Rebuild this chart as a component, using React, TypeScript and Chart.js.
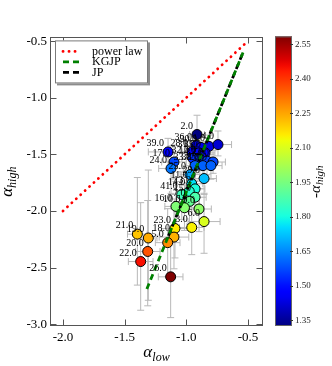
import React, { useEffect, useRef } from "react";
import { Chart, registerables } from "chart.js";
Chart.register(...registerables);

// ---------------- data ----------------
const regionLabels = ["2.0","39.0","17.0","24.0","36.0","30.0","1.0","4.0","28.0","31.0","35.0","32.0","12.0","37.0","34.0","33.0","38.0","27.0","25.0","29.0","11.0","13.0","14.0","41.0","15.0","7.0","16.0","10.0","9.0","6.0","3.0","23.0","18.0","5.0","21.0","19.0","20.0","22.0","26.0"];
const alphaLow = [-0.913,-1.148,-1.100,-1.124,-0.921,-0.881,-0.816,-0.743,-0.954,-0.897,-0.848,-0.946,-0.889,-0.832,-0.783,-0.929,-0.865,-0.800,-0.970,-0.856,-0.956,-0.929,-0.976,-1.037,-0.929,-0.974,-1.084,-1.015,-0.897,-0.856,-0.956,-1.092,-1.100,-1.151,-1.397,-1.308,-1.313,-1.370,-1.127];
const alphaHigh = [-1.325,-1.479,-1.568,-1.625,-1.422,-1.439,-1.430,-1.414,-1.479,-1.487,-1.487,-1.536,-1.544,-1.560,-1.568,-1.600,-1.600,-1.600,-1.679,-1.714,-1.760,-1.805,-1.827,-1.855,-1.879,-1.916,-1.960,-1.972,-1.983,-2.094,-2.146,-2.155,-2.231,-2.280,-2.205,-2.239,-2.358,-2.447,-2.582];
const alphaLowErr = [0.06,0.16,0.10,0.10,0.08,0.07,0.09,0.11,0.08,0.07,0.08,0.09,0.07,0.08,0.10,0.08,0.07,0.09,0.08,0.10,0.09,0.08,0.07,0.10,0.09,0.08,0.09,0.08,0.10,0.13,0.10,0.11,0.12,0.10,0.08,0.07,0.10,0.10,0.10];
const alphaHighErrUp = [0.17,0.12,0.15,0.20,0.12,0.10,0.10,0.12,0.10,0.09,0.10,0.12,0.10,0.11,0.10,0.14,0.12,0.10,0.15,0.12,0.15,0.14,0.16,0.20,0.15,0.18,0.22,0.20,0.18,0.25,0.24,0.26,0.25,0.30,0.50,0.60,0.45,0.52,0.40];
const alphaHighErrDown = [0.17,0.15,0.15,0.22,0.10,0.10,0.12,0.10,0.10,0.10,0.10,0.12,0.10,0.12,0.10,0.14,0.12,0.12,0.15,0.14,0.15,0.14,0.18,0.22,0.15,0.20,0.25,0.20,0.20,0.28,0.24,0.26,0.28,0.30,0.45,0.55,0.48,0.43,0.36];

const powerLawX = [-2.0, -0.5];
const powerLawY = [-2.0, -0.5];
const kgjpX = [-1.32, -0.54];
const kgjpY = [-2.69, -0.60];
const jpX = [-1.16, -0.54];
const jpY = [-2.26, -0.60];

const xTicks = [-2.0, -1.5, -1.0, -0.5];
const yTicks = [-3.0, -2.5, -2.0, -1.5, -1.0, -0.5];
const cbTicks = [1.35, 1.50, 1.65, 1.80, 1.95, 2.10, 2.25, 2.40, 2.55];
const cbMin = 1.325;
const cbMax = 2.58;

// ---------------- colormap (matplotlib jet) ----------------
const jetR = [[0, 0], [0.35, 0], [0.66, 1], [0.89, 1], [1, 0.5]];
const jetG = [[0, 0], [0.125, 0], [0.375, 1], [0.64, 1], [0.91, 0], [1, 0]];
const jetB = [[0, 0.5], [0.11, 1], [0.34, 1], [0.65, 0], [1, 0]];
function seg(s: number[][], t: number) {
  for (let i = 1; i < s.length; i++) {
    if (t <= s[i][0]) {
      const [x0, y0] = s[i - 1];
      const [x1, y1] = s[i];
      return y0 + ((y1 - y0) * (t - x0)) / (x1 - x0);
    }
  }
  return s[s.length - 1][1];
}
function jet(t: number) {
  const c = Math.max(0, Math.min(1, t));
  const r = Math.round(255 * seg(jetR, c));
  const g = Math.round(255 * seg(jetG, c));
  const b = Math.round(255 * seg(jetB, c));
  return `rgb(${r},${g},${b})`;
}
const valueColor = (v: number) => jet((v - cbMin) / (cbMax - cbMin));

const SERIF = '"Liberation Serif", "DejaVu Serif", serif';

function drawMath(ctx: CanvasRenderingContext2D, x: number, y: number, main: string, sub: string, rotate: boolean, mainSize: number, subSize: number, subShift: number) {
  ctx.save();
  ctx.translate(x, y);
  if (rotate) ctx.rotate(-Math.PI / 2);
  ctx.fillStyle = "#000";
  ctx.textBaseline = "alphabetic";
  ctx.textAlign = "left";
  ctx.font = `italic ${mainSize}px ${SERIF}`;
  const w1 = ctx.measureText(main).width;
  ctx.font = `italic ${subSize}px ${SERIF}`;
  const w2 = ctx.measureText(sub).width;
  const start = -(w1 + w2) / 2;
  ctx.font = `italic ${mainSize}px ${SERIF}`;
  ctx.fillText(main, start, 0);
  ctx.font = `italic ${subSize}px ${SERIF}`;
  ctx.fillText(sub, start + w1, subShift);
  ctx.restore();
}

const customPlugin = {
  id: "custom",
  beforeDatasetsDraw(chart: any) {
    const { ctx } = chart;
    const xs = chart.scales.x;
    const ys = chart.scales.y;
    ctx.save();
    ctx.strokeStyle = "#b8b8b8";
    ctx.lineWidth = 1;
    const cap = 3.5;
    for (let i = 0; i < alphaLow.length; i++) {
      const px = xs.getPixelForValue(alphaLow[i]);
      const py = ys.getPixelForValue(alphaHigh[i]);
      const xl = xs.getPixelForValue(alphaLow[i] - alphaLowErr[i]);
      const xr = xs.getPixelForValue(alphaLow[i] + alphaLowErr[i]);
      const yt = ys.getPixelForValue(alphaHigh[i] + alphaHighErrUp[i]);
      const yb = ys.getPixelForValue(alphaHigh[i] - alphaHighErrDown[i]);
      ctx.beginPath();
      ctx.moveTo(xl, py); ctx.lineTo(xr, py);
      ctx.moveTo(xl, py - cap); ctx.lineTo(xl, py + cap);
      ctx.moveTo(xr, py - cap); ctx.lineTo(xr, py + cap);
      ctx.moveTo(px, yt); ctx.lineTo(px, yb);
      ctx.moveTo(px - cap, yt); ctx.lineTo(px + cap, yt);
      ctx.moveTo(px - cap, yb); ctx.lineTo(px + cap, yb);
      ctx.stroke();
    }
    ctx.restore();
  },
  afterDatasetsDraw(chart: any) {
    const { ctx, chartArea } = chart;
    const xs = chart.scales.x;
    const ys = chart.scales.y;
    const cb = chart.scales.cb;
    // point labels
    ctx.save();
    ctx.fillStyle = "#000";
    ctx.font = `10px ${SERIF}`;
    ctx.textAlign = "right";
    ctx.textBaseline = "middle";
    for (let i = 0; i < alphaLow.length; i++) {
      const px = xs.getPixelForValue(alphaLow[i]);
      const py = ys.getPixelForValue(alphaHigh[i]);
      ctx.fillText(regionLabels[i], px - 4, py - 8.5);
    }
    ctx.restore();

    // frame + inward ticks
    ctx.save();
    ctx.strokeStyle = "#555";
    ctx.lineWidth = 1;
    const L = Math.round(chartArea.left) + 0.5;
    const R = Math.round(chartArea.right) - 0.5;
    const T = Math.round(chartArea.top) + 0.5;
    const B = Math.round(chartArea.bottom) - 0.5;
    ctx.strokeRect(L, T, R - L, B - T);
    ctx.beginPath();
    const tl = 6;
    xTicks.forEach((v) => {
      const p = Math.round(xs.getPixelForValue(v)) + 0.5;
      ctx.moveTo(p, B); ctx.lineTo(p, B - tl);
      ctx.moveTo(p, T); ctx.lineTo(p, T + tl);
    });
    yTicks.forEach((v) => {
      const p = Math.round(ys.getPixelForValue(v)) + 0.5;
      ctx.moveTo(L, p); ctx.lineTo(L + tl, p);
      ctx.moveTo(R, p); ctx.lineTo(R - tl, p);
    });
    ctx.stroke();
    ctx.restore();

    // legend
    ctx.save();
    const lx = chartArea.left + 5, ly = chartArea.top + 3, lw = 93, lh = 43;
    ctx.fillStyle = "#8c8c8c";
    ctx.fillRect(lx + 2, ly + 2, lw, lh);
    ctx.fillStyle = "#fff";
    ctx.fillRect(lx, ly, lw, lh);
    ctx.strokeStyle = "#7a7a7a";
    ctx.lineWidth = 1;
    ctx.strokeRect(lx + 0.5, ly + 0.5, lw - 1, lh - 1);
    const items = chart.data.datasets.filter((d: any) => d.type === "line");
    ctx.font = `12px ${SERIF}`;
    ctx.textBaseline = "middle";
    ctx.textAlign = "left";
    items.forEach((d: any, k: number) => {
      const yy = ly + 11 + k * 10.5;
      ctx.save();
      ctx.strokeStyle = d.borderColor;
      ctx.lineWidth = d.borderWidth;
      ctx.lineCap = d.borderCapStyle || "butt";
      ctx.setLineDash(d.borderDash || []);
      ctx.beginPath();
      ctx.moveTo(lx + 8, yy); ctx.lineTo(lx + 24, yy);
      ctx.stroke();
      ctx.restore();
      ctx.fillStyle = "#000";
      ctx.fillText(d.label, lx + 37, yy);
    });
    ctx.restore();

    // colorbar
    ctx.save();
    const bx0 = cb.left + 12, bx1 = cb.left + 29;
    const by0 = cb.top - 1, by1 = cb.bottom;
    const grad = ctx.createLinearGradient(0, by1, 0, by0);
    for (let s = 0; s <= 50; s++) grad.addColorStop(s / 50, jet(s / 50));
    ctx.fillStyle = grad;
    ctx.fillRect(bx0, by0, bx1 - bx0, by1 - by0);
    ctx.strokeStyle = "#666";
    ctx.lineWidth = 1;
    ctx.strokeRect(bx0 + 0.5, by0 + 0.5, bx1 - bx0 - 1, by1 - by0 - 1);
    ctx.beginPath();
    ctx.strokeStyle = "#333";
    cbTicks.forEach((v) => {
      const p = Math.round(cb.getPixelForValue(v)) + 0.5;
      ctx.moveTo(bx1 - 2, p); ctx.lineTo(bx1 + 1, p);
    });
    ctx.stroke();
    ctx.restore();

    // axis titles
    drawMath(ctx, (chartArea.left + chartArea.right) / 2, 357, "\u03b1", "low", false, 17, 12, 4);
    drawMath(ctx, 12, (chartArea.top + chartArea.bottom) / 2, "\u03b1", "high", true, 17, 12, 4);
    drawMath(ctx, 320, (chartArea.top + chartArea.bottom) / 2, "-\u03b1", "high", true, 15, 11, 3);
  },
};

export default function App() {
  const ref = useRef<HTMLCanvasElement | null>(null);
  useEffect(() => {
    if (!ref.current) return;
    const pts = alphaLow.map((x, i) => ({ x, y: alphaHigh[i] }));
    const chart = new Chart(ref.current, {
      type: "scatter",
      data: {
        datasets: [
          {
            type: "line",
            label: "power law",
            data: powerLawX.map((x, i) => ({ x, y: powerLawY[i] })),
            borderColor: "#ff0000",
            borderWidth: 2.8,
            borderDash: [0.1, 5.9],
            borderCapStyle: "round",
            pointRadius: 0,
            fill: false,
            order: 0,
          } as any,
          {
            type: "line",
            label: "KGJP",
            data: kgjpX.map((x, i) => ({ x, y: kgjpY[i] })),
            borderColor: "#008000",
            borderWidth: 2.8,
            borderDash: [6, 4],
            pointRadius: 0,
            fill: false,
            order: 0,
          } as any,
          {
            type: "line",
            label: "JP",
            data: jpX.map((x, i) => ({ x, y: jpY[i] })),
            borderColor: "#000000",
            borderWidth: 2.8,
            borderDash: [6, 4],
            borderDashOffset: 5,
            pointRadius: 0,
            fill: false,
            order: 0,
          } as any,
          {
            label: "regions",
            data: pts,
            pointRadius: 5,
            pointHoverRadius: 5,
            pointBorderWidth: 1,
            pointBorderColor: "#000",
            pointBackgroundColor: alphaHigh.map((v) => valueColor(-v)),
            order: 1,
          } as any,
        ],
      },
      options: {
        animation: false,
        responsive: false,
        events: [],
        layout: { padding: { top: 12, left: 0, right: 0, bottom: 0 } },
        plugins: { legend: { display: false }, tooltip: { enabled: false } },
        scales: {
          x: {
            type: "linear",
            min: -2.1054,
            max: -0.378,
            grid: { display: false, drawTicks: false },
            border: { display: false },
            afterBuildTicks: (s: any) => { s.ticks = xTicks.map((value) => ({ value })); },
            afterFit: (s: any) => { s.height = 40; },
            ticks: { padding: 4, color: "#000", font: { family: SERIF, size: 13 }, callback: (v: any) => Number(v).toFixed(1) },
          },
          y: {
            type: "linear",
            min: -3.0162,
            max: -0.4675,
            grid: { display: false, drawTicks: false },
            border: { display: false },
            afterBuildTicks: (s: any) => { s.ticks = yTicks.map((value) => ({ value })); },
            afterFit: (s: any) => { s.width = 50; },
            ticks: { padding: 3, color: "#000", font: { family: SERIF, size: 13 }, callback: (v: any) => Number(v).toFixed(1) },
          },
          cb: {
            type: "linear",
            position: "right",
            min: cbMin,
            max: cbMax,
            grid: { display: false, drawTicks: false },
            border: { display: false },
            afterBuildTicks: (s: any) => { s.ticks = cbTicks.map((value) => ({ value })); },
            afterFit: (s: any) => { s.width = 69; },
            ticks: { padding: 32, color: "#222", font: { family: SERIF, size: 9 }, callback: (v: any) => Number(v).toFixed(2) },
          },
        },
      } as any,
      plugins: [customPlugin],
    });
    return () => chart.destroy();
  }, []);
  return (
    <div style={{ position: "fixed", left: 0, top: 0, width: 332, height: 366, background: "#fff" }}>
      <canvas ref={ref} width={332} height={366} style={{ display: "block" }} />
    </div>
  );
}
